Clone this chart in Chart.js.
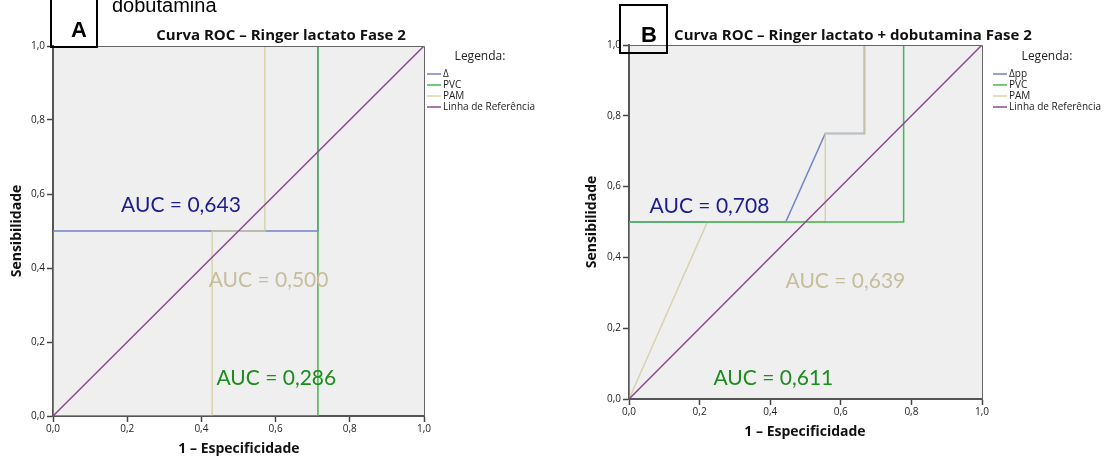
<!DOCTYPE html>
<html>
<head>
<meta charset="utf-8">
<script src="https://cdn.jsdelivr.net/npm/chart.js@4"></script>
<style>
  body { margin: 0; background: #fff; width: 1110px; height: 462px; position: relative; overflow: hidden; }
  canvas { position: absolute; top: 0; }
  #chartA { left: 0; }
  #chartB { left: 560px; }
</style>
</head>
<body>
<canvas id="chartA" width="555" height="462"></canvas>
<canvas id="chartB" width="550" height="462"></canvas>
<script>
// ROC curves, x = 1 - especificidade, y = sensibilidade
const ticks = [0, 0.2, 0.4, 0.6, 0.8, 1.0];

// Painel A - Ringer lactato Fase 2
const aDeltaX = [0, 0, 0.714, 0.714, 1];
const aDeltaY = [0, 0.5, 0.5, 1, 1];
const aPvcX = [0, 0.714, 0.714, 1];
const aPvcY = [0, 0, 1, 1];
const aPamX = [0, 0.429, 0.429, 0.571, 0.571, 1];
const aPamY = [0, 0, 0.5, 0.5, 1, 1];
const aAuc = ['AUC = 0,643', 'AUC = 0,286', 'AUC = 0,500'];

// Painel B - Ringer lactato + dobutamina Fase 2
const bDeltaX = [0, 0, 0.444, 0.556, 0.667, 0.667, 1];
const bDeltaY = [0, 0.5, 0.5, 0.75, 0.75, 1, 1];
const bPvcX = [0, 0, 0.778, 0.778, 1];
const bPvcY = [0, 0.5, 0.5, 1, 1];
const bPamX = [0, 0.222, 0.556, 0.556, 0.667, 0.667, 1];
const bPamY = [0, 0.5, 0.5, 0.75, 0.75, 1, 1];
const bAuc = ['AUC = 0,708', 'AUC = 0,611', 'AUC = 0,639'];

const refX = [0, 1];
const refY = [0, 1];

const colBlue = '#7282c4';
const colGreen = '#45b84f';
const colBeige = 'rgba(212, 204, 160, 0.85)';
const colPurple = '#8c4790';

function pts(xs, ys) {
    return xs.map((x, i) => ({ x: x, y: ys[i] }));
}

function fmt(v) {
    return v.toFixed(1).replace('.', ',');
}

const rocText = {
    id: 'rocText',
    beforeDraw(chart) {
        const a = chart.chartArea;
        const ctx = chart.ctx;
        ctx.save();
        ctx.fillStyle = '#efefef';
        ctx.fillRect(a.left, a.top, a.right - a.left, a.bottom - a.top);
        ctx.restore();
    },
    afterDraw(chart, args, opts) {
        const a = chart.chartArea;
        const ctx = chart.ctx;
        const xs = chart.scales.x, ys = chart.scales.y;
        ctx.save();
        // top and right frame
        ctx.strokeStyle = '#666';
        ctx.lineWidth = 1;
        ctx.beginPath();
        ctx.moveTo(a.left, a.top + 0.5);
        ctx.lineTo(a.right + 0.5, a.top + 0.5);
        ctx.lineTo(a.right + 0.5, a.bottom);
        ctx.stroke();

        // AUC labels in data coordinates
        ctx.textAlign = 'center';
        ctx.textBaseline = 'middle';
        ctx.font = '21px Lato';
        opts.auc.forEach(t => {
            ctx.fillStyle = t.color;
            ctx.fillText(t.text, xs.getPixelForValue(t.x), ys.getPixelForValue(t.y));
        });

        // title
        ctx.fillStyle = '#111';
        ctx.font = 'bold 15px "Open Sans"';
        ctx.fillText(opts.title, opts.titleX, 36);

        // axis titles
        ctx.font = 'bold 14px "Open Sans"';
        ctx.fillText('1 \u2013 Especificidade', opts.xTitle[0], opts.xTitle[1]);
        ctx.save();
        ctx.translate(opts.yTitle[0], opts.yTitle[1]);
        ctx.rotate(-Math.PI / 2);
        ctx.fillText('Sensibilidade', 0, 0);
        ctx.restore();

        // legend
        ctx.font = '12px "Open Sans"';
        ctx.fillStyle = '#222';
        ctx.fillText('Legenda:', opts.legend.titleX, 57);
        ctx.font = '10px "Open Sans"';
        ctx.textAlign = 'left';
        opts.legend.items.forEach((it, i) => {
            const y = 74 + i * 11;
            ctx.strokeStyle = it.color;
            ctx.lineWidth = 1.5;
            ctx.beginPath();
            ctx.moveTo(opts.legend.x, y);
            ctx.lineTo(opts.legend.x + 14, y);
            ctx.stroke();
            ctx.fillStyle = '#222';
            ctx.fillText(it.label, opts.legend.x + 16, y);
        });

        // panel letter box
        const b = opts.box;
        ctx.strokeStyle = '#000';
        ctx.lineWidth = 2;
        ctx.strokeRect(b.x, b.y, b.w, b.h);
        ctx.fillStyle = '#000';
        ctx.textAlign = 'center';
        ctx.font = 'bold 22px Arial';
        ctx.fillText(b.letter, b.lx, b.ly);
        if (opts.extra) {
            ctx.textAlign = 'left';
            ctx.textBaseline = 'alphabetic';
            ctx.font = '20px Arial';
            ctx.fillText(opts.extra, 112, 12);
        }
        ctx.restore();
    }
};

function makeChart(id, sets, pad, bottomH, leftW, textOpts) {
    const ctx = document.getElementById(id).getContext('2d');
    return new Chart(ctx, {
        type: 'scatter',
        data: {
            datasets: [
                { label: 'ref', data: pts(refX, refY), borderColor: colPurple, order: 0 },
                { label: 'pvc', data: sets.pvc, borderColor: colGreen, order: 1 },
                { label: 'pam', data: sets.pam, borderColor: colBeige, order: 2 },
                { label: 'delta', data: sets.delta, borderColor: colBlue, order: 3 }
            ].map(d => Object.assign(d, {
                showLine: true, pointRadius: 0, borderWidth: 1.5, fill: false, tension: 0
            }))
        },
        options: {
            responsive: false,
            animation: false,
            layout: { padding: pad },
            plugins: {
                legend: { display: false },
                tooltip: { enabled: false },
                rocText: textOpts
            },
            scales: {
                x: {
                    type: 'linear', min: 0, max: 1,
                    afterBuildTicks: s => { s.ticks = ticks.map(v => ({ value: v })); },
                    afterFit: s => { s.height = bottomH; },
                    ticks: { callback: fmt, font: { family: 'Open Sans', size: 10 }, color: '#222', padding: 1, maxRotation: 0 },
                    grid: { drawOnChartArea: false, tickLength: 6, tickColor: '#444', tickWidth: 1.5 },
                    border: { color: '#555', width: 2 }
                },
                y: {
                    type: 'linear', min: 0, max: 1,
                    afterBuildTicks: s => { s.ticks = ticks.map(v => ({ value: v })); },
                    afterFit: s => { s.width = leftW; },
                    ticks: { callback: fmt, font: { family: 'Open Sans', size: 10 }, color: '#222', padding: 2 },
                    grid: { drawOnChartArea: false, tickLength: 6, tickColor: '#444', tickWidth: 1.5 },
                    border: { color: '#555', width: 2 }
                }
            }
        },
        plugins: [rocText]
    });
}

makeChart('chartA',
    { delta: pts(aDeltaX, aDeltaY), pvc: pts(aPvcX, aPvcY), pam: pts(aPamX, aPamY) },
    { left: 0, top: 46, right: 131, bottom: 0 }, 46, 53,
    {
        auc: [
            { text: aAuc[0], x: 0.345, y: 0.57, color: '#1c1c8e' },
            { text: aAuc[1], x: 0.602, y: 0.103, color: '#1c8c1c' },
            { text: aAuc[2], x: 0.581, y: 0.368, color: '#c6bd9c' }
        ],
        title: 'Curva ROC \u2013 Ringer lactato Fase 2', titleX: 281,
        xTitle: [239, 449], yTitle: [17, 231],
        legend: {
            titleX: 480, x: 427,
            items: [
                { label: '\u0394', color: colBlue },
                { label: 'PVC', color: colGreen },
                { label: 'PAM', color: colBeige },
                { label: 'Linha de Refer\u00eancia', color: colPurple }
            ]
        },
        box: { x: 51, y: -2, w: 46, h: 49, letter: 'A', lx: 79, ly: 31 },
        extra: 'dobutamina'
    });

makeChart('chartB',
    { delta: pts(bDeltaX, bDeltaY), pvc: pts(bPvcX, bPvcY), pam: pts(bPamX, bPamY) },
    { left: 0, top: 45, right: 128, bottom: 0 }, 63, 69,
    {
        auc: [
            { text: bAuc[0], x: 0.228, y: 0.545, color: '#1c1c8e' },
            { text: bAuc[1], x: 0.409, y: 0.059, color: '#1c8c1c' },
            { text: bAuc[2], x: 0.613, y: 0.333, color: '#c6bd9c' }
        ],
        title: 'Curva ROC \u2013 Ringer lactato + dobutamina Fase 2', titleX: 293,
        xTitle: [245, 432], yTitle: [32, 222],
        legend: {
            titleX: 487, x: 433,
            items: [
                { label: '\u0394pp', color: colBlue },
                { label: 'PVC', color: colGreen },
                { label: 'PAM', color: colBeige },
                { label: 'Linha de Refer\u00eancia', color: colPurple }
            ]
        },
        box: { x: 60, y: 5, w: 47, h: 48, letter: 'B', lx: 89, ly: 36 }
    });
</script>
</body>
</html>
